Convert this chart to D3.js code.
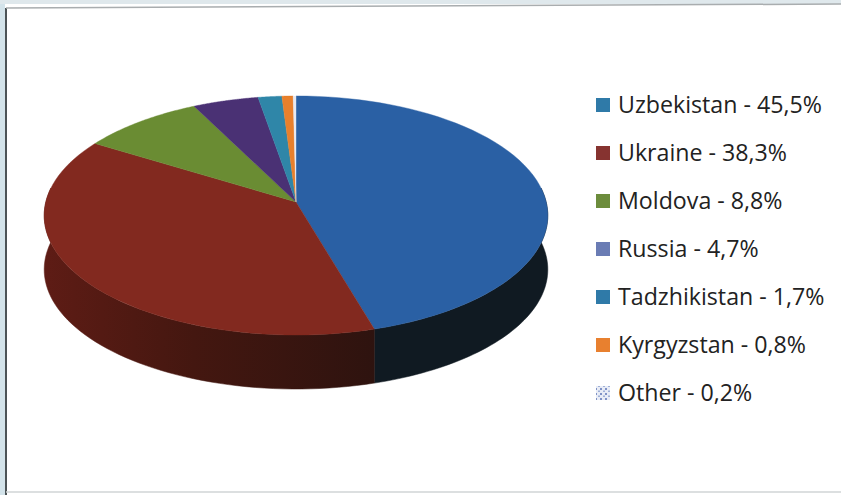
<!DOCTYPE html>
<html>
<head>
<meta charset="utf-8">
<script src="https://cdnjs.cloudflare.com/ajax/libs/d3/7.8.5/d3.min.js"></script>
<style>
html,body{margin:0;padding:0;background:#fff;}
svg{display:block;}
text{font-family:"Open Sans",sans-serif;fill:#222;}
</style>
</head>
<body>
<svg id="chart" width="841" height="495"></svg>
<script>
// Export shares by country
const countries = ["Uzbekistan","Ukraine","Moldova","Russia","Tadzhikistan","Kyrgyzstan","Other"];
const shares = [45.5,38.3,8.8,4.7,1.7,0.8,0.2];
const shareLabels = ["45,5%","38,3%","8,8%","4,7%","1,7%","0,8%","0,2%"];
const topColors = ["#2a60a4","#82291f","#6a8c33","#4a3174","#2f86a8","#e8802c","#e6e9f2"];
const sideColors = ["#101a22","#33130f","#26301a","#1e1630","#12303c","#4a2a10","#55585e"];
const legendColors = ["#2f7aa8","#863330","#6c8c3c","#6a7cb4","#2f7aa8","#e8802f","#c3cde6"];

const width = 841, height = 495;
const svg = d3.select("#chart");
const defs = svg.append("defs");

// Maroon wall catches a little light towards its left end
const redWall = defs.append("linearGradient").attr("id","redWall")
  .attr("gradientUnits","userSpaceOnUse").attr("x1",44).attr("x2",375).attr("y1",0).attr("y2",0);
redWall.append("stop").attr("offset",0).attr("stop-color","#5e1c15");
redWall.append("stop").attr("offset",0.45).attr("stop-color","#441710");
redWall.append("stop").attr("offset",1).attr("stop-color","#2e130f");

// Speckled fill for the "Other" swatch
const speck = defs.append("pattern").attr("id","speck").attr("patternUnits","userSpaceOnUse")
  .attr("width",5).attr("height",5);
speck.append("rect").attr("width",5).attr("height",5).attr("fill","#e8ecf6");
speck.append("rect").attr("x",0).attr("y",0).attr("width",2).attr("height",2).attr("fill","#7f92c6");
speck.append("rect").attr("x",3).attr("y",2.5).attr("width",2).attr("height",1.5).attr("fill","#9fb0d8");

// Disc geometry: unit circle pushed through a perspective divide
const apex = {x:296, y:202};
const scaleX = 250.2, scaleY = 118, persp = 0.113, depth = 54;
const project = a => {
  const ux = Math.sin(a), uy = -Math.cos(a), w = 1 - persp*uy;
  return [apex.x + scaleX*ux/w, apex.y + scaleY*uy/w];
};
const rimPoints = (a0,a1) => d3.range(0,61).map(i => project(a0 + (a1-a0)*i/60));

const arcs = d3.pie().sort(null).value(d => d)(shares);

// Chart frame
const frame = svg.append("g");
frame.append("rect").attr("x",0).attr("y",0).attr("width",5).attr("height",height).attr("fill","#d3e3ea");
frame.append("rect").attr("x",0).attr("y",0).attr("width",width).attr("height",4).attr("fill","#dfe8ec");
frame.append("line").attr("x1",6).attr("y1",8).attr("x2",6).attr("y2",height).attr("stroke","#4c5356").attr("stroke-width",2);
frame.append("line").attr("x1",6).attr("y1",8).attr("x2",width).attr("y2",4).attr("stroke","#a9adaf").attr("stroke-width",1.5);
frame.append("line").attr("x1",6).attr("y1",492).attr("x2",width).attr("y2",492).attr("stroke","#d0d4d6").attr("stroke-width",1.5);

// Side wall, front half of the rim only
const line = d3.line();
const wall = svg.append("g");
const frontStart = Math.PI/2 - 0.12, frontEnd = 3*Math.PI/2 + 0.12;
arcs.forEach((d,i) => {
  const a0 = Math.max(d.startAngle, frontStart), a1 = Math.min(d.endAngle, frontEnd);
  if (a1 <= a0) return;
  const top = rimPoints(a0,a1);
  const bottom = top.map(p => [p[0],p[1]+depth]).reverse();
  const fill = i === 1 ? "url(#redWall)" : sideColors[i];
  wall.append("path").attr("d", line(top.concat(bottom))+"Z")
    .attr("fill",fill).attr("stroke",fill).attr("stroke-width",0.5);
});

// Top face slices
const faces = svg.append("g");
arcs.forEach((d,i) => {
  faces.append("path")
    .attr("d", line([[apex.x,apex.y]].concat(rimPoints(d.startAngle,d.endAngle)))+"Z")
    .attr("fill",topColors[i]).attr("stroke",topColors[i]).attr("stroke-width",0.4);
});

// Legend
const legendY = d3.scalePoint().domain(countries).range([105,393]);
const legend = svg.append("g").selectAll("g").data(countries).join("g")
  .attr("transform", d => `translate(0,${legendY(d)})`);
legend.append("rect").attr("x",596).attr("y",-7).attr("width",14).attr("height",14)
  .attr("fill",(d,i)=> i === 6 ? "url(#speck)" : legendColors[i]);
legend.append("text").attr("x",618).attr("dy","0.36em")
  .attr("font-size",23.2)
  .text((d,i)=>`${d} - ${shareLabels[i]}`);
</script>
</body>
</html>
